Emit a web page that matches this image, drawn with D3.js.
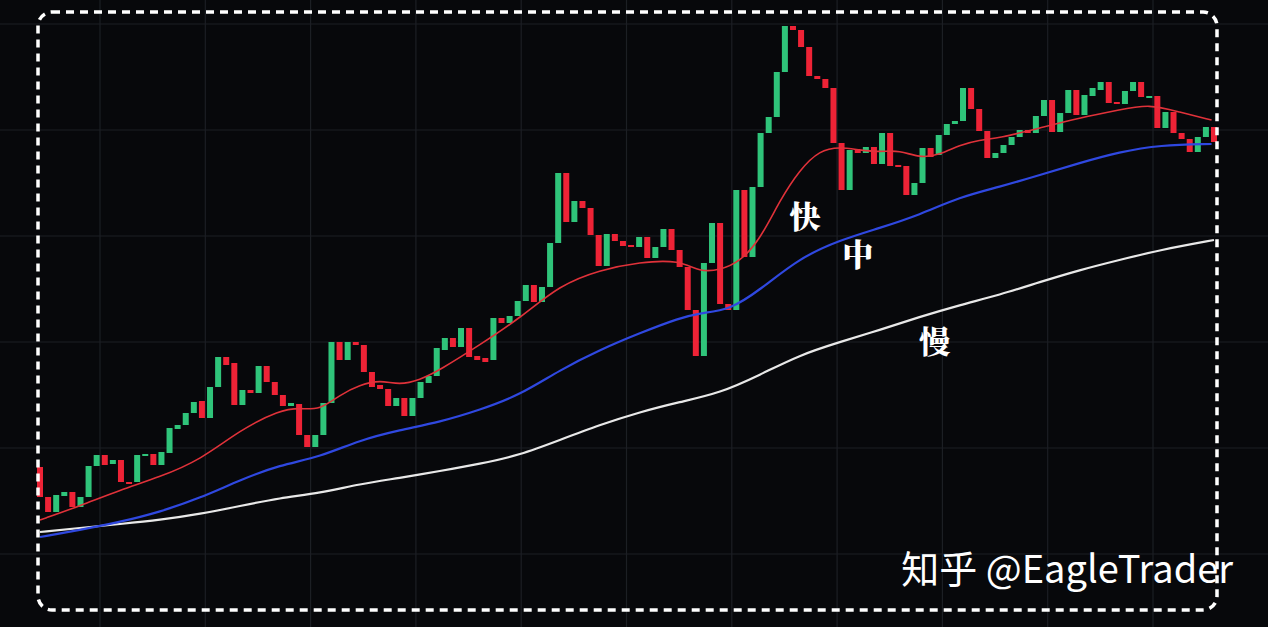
<!DOCTYPE html>
<html><head><meta charset="utf-8">
<script src="https://cdn.jsdelivr.net/npm/d3@7/dist/d3.min.js"></script>
<style>html,body{margin:0;background:#07080b;overflow:hidden}</style>
</head><body><svg id="c" width="1268" height="627"></svg>
<script>
const opens=[133,103,88,104,108,93,103,134,145,136,140,118,118,145,146,135,147,171,175,187,199,182,213,243,237,195,210,207,234,218,205,194,196,165,153,165,197,258,240,258,255,228,215,211,194,202,184,202,217,224,250,262,253,272,244,242,240,282,277,284,299,315,298,313,357,427,378,399,392,365,334,366,359,355,353,363,342,353,371,350,333,290,244,337,377,296,290,410,343,413,467,483,528,574,570,553,524,521,512,457,410,450,447,453,436,467,435,434,405,417,452,445,465,476,479,512,491,469,442,447,455,463,470,467,484,500,468,487,510,485,504,510,518,498,496,509,518,503,504,472,488,467,461,448,463,473];
const closes=[103,88,105,108,93,103,134,145,135,140,118,117,145,146,135,148,172,175,187,198,182,213,243,235,195,210,207,234,218,205,194,197,165,153,165,197,258,240,258,255,228,213,211,194,202,184,202,218,224,252,262,253,272,243,240,238,282,277,284,299,315,298,313,357,427,378,399,392,365,334,366,359,354,353,363,342,353,371,350,333,290,244,337,377,296,290,410,343,413,467,483,528,574,570,553,524,521,512,457,410,450,447,453,436,467,434,433,405,417,452,443,465,476,479,512,491,469,442,447,455,463,470,467,484,500,468,487,510,485,505,512,518,497,496,509,518,503,504,472,488,467,461,448,463,473,458];
const fastIdx=[0,4.9,9.9,14.8,19.8,24.7,29.6,32.1,34.6,37,39.5,42,44.4,46.9,49.4,54.3,59.3,64.2,69.1,74.1,79,81.5,84,86.4,88.9,91.4,93.8,96.3,98.8,101.2,103.7,106.2,108.6,111.1,113.6,116,118.5,123.5,128.4,133.3,137,140.7,144.7];
const fastVal=[80,94,110,123,140,170,190,192,190,205,215,220,215,220,230,255,282,315,330,338,340,328,330,338,360,400,430,450,453,450,448,450,442,445,455,460,462,472,482,490,496,488,480];
const midIdx=[0,4.9,9.9,14.8,19.8,24.7,29.6,34.6,39.5,44.4,49.4,54.3,59.3,64.2,69.1,74.1,79,81.5,85.2,88.9,93.8,98.8,103.7,108.6,113.6,118.5,123.5,128.4,133.3,138.3,144.7];
const midVal=[63,70,78,88,102,120,135,143,160,170,178,190,205,230,250,267,282,287,290,310,342,360,372,385,403,413,425,437,448,455,456];
const slowIdx=[0,4.9,9.9,14.8,19.8,24.7,29.6,34.6,39.5,44.4,49.4,54.3,59.3,64.2,69.1,74.1,79,84,88.9,93.8,98.8,103.7,108.6,113.6,118.5,123.5,128.4,133.3,138.3,145];
const slowVal=[68,72,76,80,86,94,102,107,116,122,129,136,145,160,175,188,198,207,225,245,258,270,283,295,305,318,330,340,350,360];
const labels=[{t:"快",i:94.5,v:372},{t:"中",i:101,v:334},{t:"慢",i:110.5,v:247}];

const svg=d3.select("#c");
svg.append("rect").attr("width",1268).attr("height",627).attr("fill","#07080b");
const x=d3.scaleLinear().domain([0,145]).range([40,1214]);
const y=d3.scaleLinear().domain([0,600]).range([600,0]);
const g=svg.append("g");
d3.range(100,1200,105.3).forEach(v=>g.append("line").attr("x1",v).attr("x2",v).attr("y1",0).attr("y2",627).attr("stroke","#1c1f24").attr("stroke-width",1.2));
d3.range(24,627,106).forEach(v=>g.append("line").attr("y1",v).attr("y2",v).attr("x1",0).attr("x2",1268).attr("stroke","#1c1f24").attr("stroke-width",1.2));
const line=d3.line().x(d=>x(d[0])).y(d=>y(d[1])).curve(d3.curveBasis);
svg.append("g").selectAll("rect").data(opens.map((o,i)=>({i,o,c:closes[i]}))).join("rect")
 .attr("x",d=>x(d.i)-3).attr("width",6)
 .attr("y",d=>y(Math.max(d.o,d.c))).attr("height",d=>Math.max(2,Math.abs(y(d.o)-y(d.c))))
 .attr("fill",d=>d.c>=d.o?"#2fc47a":"#ee2336");
[[slowIdx,slowVal,"#e8e8e8",2.2],[midIdx,midVal,"#2f48e0",2.2],[fastIdx,fastVal,"#e0323a",1.6]].forEach(([a,b,c,w])=>
 svg.append("path").attr("d",line(a.map((v,k)=>[v,b[k]]))).attr("fill","none").attr("stroke",c).attr("stroke-width",w));
svg.selectAll("text.l").data(labels).join("text").attr("class","l")
 .attr("x",d=>x(d.i)).attr("y",d=>y(d.v)).attr("text-anchor","middle")
 .attr("font-family","Noto Serif CJK SC, Noto Sans CJK SC").attr("font-weight","900").attr("font-size",31).attr("fill","#fff").text(d=>d.t);
svg.append("rect").attr("x",38).attr("y",12).attr("width",1179).attr("height",598).attr("rx",14)
 .attr("fill","none").attr("stroke","#fff").attr("stroke-width",3.5).attr("stroke-dasharray","8 6");
svg.append("text").attr("x",1233).attr("y",583).attr("text-anchor","end").attr("font-family","Noto Sans CJK SC").attr("font-size",38).attr("fill","#fff").text("知乎 @EagleTrader");
</script></body></html>
